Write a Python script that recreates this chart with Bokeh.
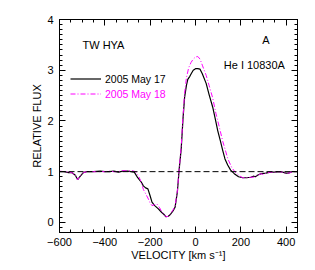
import numpy as np
from bokeh.plotting import figure
from bokeh.models import (Span, Label, Legend, LegendItem, LinearAxis, FixedTicker, Range1d,
                          CustomJSTickFormatter)
from bokeh.embed import file_html
from bokeh.resources import INLINE

# Data
vel_may17 = [-600, -580, -560, -545, -530, -520, -510, -495, -480, -450, -420, -400, -380, -360,
             -340, -320, -300, -285, -270, -255, -240, -230, -220, -210, -200, -192, -180, -165,
             -150, -140, -130, -120, -110, -100, -90, -80, -72, -63, -55, -48, -40, -34, -25,
             -19, -10, 0, 10, 20, 30, 47, 60, 76, 90, 98, 110, 120, 130, 142, 155, 171, 190,
             208, 225, 244, 255, 265, 273, 290, 310, 330, 350, 369, 385, 398, 410, 427, 450]
flux_may17 = [1.00, 1.00, 0.98, 0.98, 0.93, 0.84, 0.90, 0.98, 1.00, 1.00, 1.01, 1.00, 1.00, 1.01,
              0.99, 1.01, 1.01, 1.00, 0.99, 0.88, 0.80, 0.72, 0.68, 0.66, 0.52, 0.40, 0.33, 0.27,
              0.20, 0.16, 0.11, 0.12, 0.16, 0.22, 0.30, 0.60, 1.05, 1.45, 2.05, 2.47, 2.70, 2.82, 2.88,
              2.93, 3.00, 3.03, 3.03, 3.02, 2.93, 2.74, 2.52, 2.27, 1.98, 1.81, 1.60, 1.42, 1.25, 1.13,
              1.03, 0.96, 0.90, 0.88, 0.88, 0.89, 0.91, 0.90, 0.93, 0.96, 0.97, 0.99, 0.99, 1.00,
              0.99, 0.97, 0.97, 1.00, 1.00]

vel_may18 = [-600, -580, -560, -545, -530, -520, -510, -495, -480, -450, -420, -400, -380, -360,
             -340, -320, -300, -280, -265, -250, -240, -230, -222, -210, -200, -192, -180, -170,
             -160, -150, -140, -130, -120, -110, -100, -90, -80, -72, -63, -55, -48, -40, -30,
             -20, -10, 0, 10, 20, 30, 47, 60, 76, 90, 105, 120, 130, 142, 160, 175, 186, 200,
             208, 225, 244, 255, 265, 273, 290, 300, 310, 330, 350, 369, 385, 398, 410, 427, 450]
flux_may18 = [1.01, 1.00, 0.99, 0.98, 0.93, 0.84, 0.91, 0.98, 1.00, 1.00, 1.00, 1.00, 1.01, 1.00,
              1.00, 1.02, 1.01, 1.02, 1.00, 0.90, 0.80, 0.65, 0.58, 0.48, 0.38, 0.33, 0.35, 0.36,
              0.30, 0.22, 0.16, 0.11, 0.12, 0.17, 0.24, 0.32, 0.62, 1.05, 1.50, 2.10, 2.55, 2.85, 3.05,
              3.15, 3.22, 3.26, 3.27, 3.22, 3.10, 2.90, 2.70, 2.45, 2.15, 1.88, 1.60, 1.45, 1.26, 1.08,
              0.99, 0.95, 0.90, 0.88, 0.88, 0.89, 0.89, 0.90, 0.93, 0.96, 0.94, 0.97, 0.99, 0.99, 1.00,
              0.99, 0.97, 0.97, 1.00, 1.00]

x_ticks = [-600, -400, -200, 0, 200, 400]
x_tick_labels = ["\u2212600", "\u2212400", "\u2212200", "0", "200", "400"]
y_ticks = [0, 1, 2, 3, 4]
y_tick_labels = ["0", "1", "2", "3", "4"]
continuum_level = 1.0

FONT = "Liberation Sans"
MAGENTA = "#ff00ff"

p = figure(width=315, height=270, output_backend="svg", toolbar_location=None,
           x_range=Range1d(-600, 450), y_range=Range1d(-0.2, 4.0),
           min_border_left=59, min_border_right=18, min_border_top=19, min_border_bottom=38)
p.xgrid.visible = False
p.ygrid.visible = False
p.outline_line_color = "black"
p.outline_line_width = 1
p.background_fill_color = "white"
p.border_fill_color = "white"

x_minor = list(np.arange(-600, 451, 50))
y_minor = list(np.round(np.arange(-0.2, 4.01, 0.1), 2))

def style_axis(ax, show_labels):
    ax.major_tick_in = 6
    ax.major_tick_out = 0
    ax.minor_tick_in = 3
    ax.minor_tick_out = 0
    ax.axis_line_color = "black"
    ax.major_tick_line_color = "black"
    ax.minor_tick_line_color = "black"
    ax.major_label_text_font = FONT
    ax.major_label_text_color = "black"
    ax.axis_label_text_font = FONT
    ax.axis_label_text_font_style = "normal"
    ax.axis_label_text_font_size = "11px"
    ax.axis_label_text_color = "black"
    ax.major_label_text_font_size = "11px"
    if not show_labels:
        ax.formatter = CustomJSTickFormatter(code="return ''")
        ax.major_label_standoff = 0

xa = p.xaxis[0]
xa.ticker = FixedTicker(ticks=x_ticks, minor_ticks=x_minor)
xa.major_label_overrides = dict(zip(x_ticks, x_tick_labels))
xa.axis_label = "VELOCITY [km s\u207b\u00b9]"
xa.major_label_standoff = 5
xa.axis_label_standoff = 0
style_axis(xa, True)

ya = p.yaxis[0]
ya.ticker = FixedTicker(ticks=y_ticks, minor_ticks=y_minor)
ya.major_label_overrides = dict(zip(y_ticks, y_tick_labels))
ya.axis_label = "RELATIVE FLUX"
ya.major_label_standoff = 6
ya.axis_label_standoff = 1
style_axis(ya, True)

top = LinearAxis(ticker=FixedTicker(ticks=x_ticks, minor_ticks=x_minor))
style_axis(top, False)
p.add_layout(top, "above")
right = LinearAxis(ticker=FixedTicker(ticks=y_ticks, minor_ticks=y_minor))
style_axis(right, False)
p.add_layout(right, "right")

p.add_layout(Span(location=continuum_level, dimension="width", line_color="black",
                  line_dash="6 3", line_width=1))

r17 = p.line(vel_may17, flux_may17, line_color="black", line_width=1.2)
r18 = p.line(vel_may18, flux_may18, line_color=MAGENTA, line_width=1, line_dash="5 2 1 2")

for items, loc, col in [([LegendItem(label="2005 May 17", renderers=[r17])], (11, 147), "black"),
                        ([LegendItem(label="2005 May 18", renderers=[r18])], (11, 132), MAGENTA)]:
    lg = Legend(items=items, location=loc, padding=0, margin=0, spacing=0,
                border_line_color=None, background_fill_alpha=0,
                glyph_width=31, glyph_height=13, label_standoff=4,
                label_text_font=FONT, label_text_font_size="10.5px", label_text_color=col,
                label_height=13)
    p.add_layout(lg, "center")

p.add_layout(Label(x=-406, y=3.5, text="TW HYA", text_font=FONT, text_font_size="11px",
                   text_align="center", text_baseline="middle", text_color="black"))
p.add_layout(Label(x=311, y=3.6, text="A", text_font=FONT, text_font_size="11px",
                   text_align="center", text_baseline="middle", text_color="black"))
p.add_layout(Label(x=408, y=3.1, text="He I  10830A", text_font=FONT, text_font_size="11px",
                   text_align="right", text_baseline="middle", text_color="black"))

open("out.html", "w").write(file_html(p, INLINE))
